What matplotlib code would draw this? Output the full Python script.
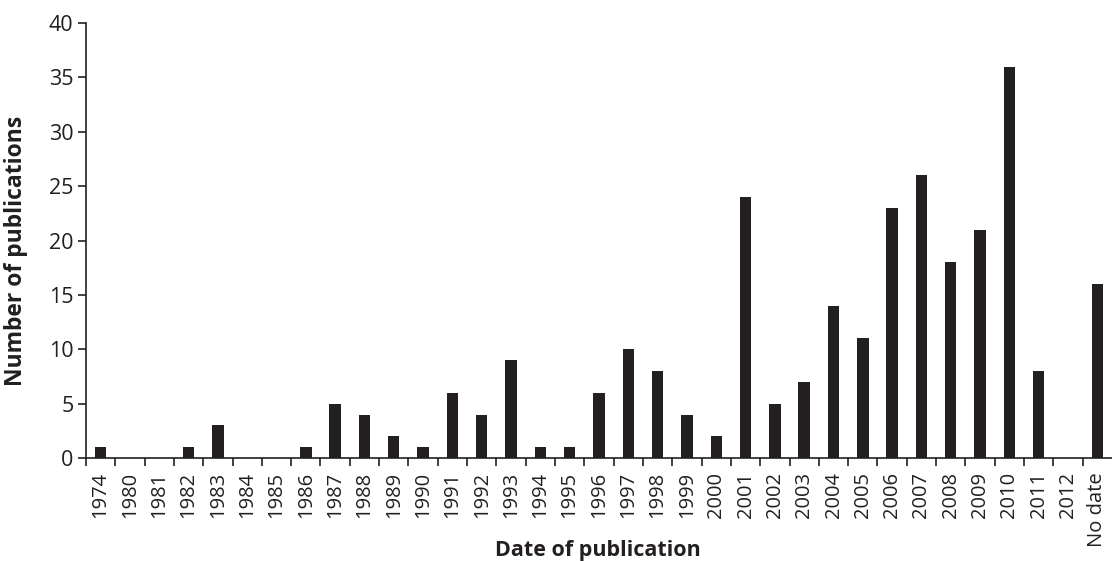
import numpy as np
import matplotlib.pyplot as plt

# Publications per year
years = ['1974', '1980', '1981', '1982', '1983', '1984', '1985', '1986', '1987',
         '1988', '1989', '1990', '1991', '1992', '1993', '1994', '1995', '1996',
         '1997', '1998', '1999', '2000', '2001', '2002', '2003', '2004', '2005',
         '2006', '2007', '2008', '2009', '2010', '2011', '2012', 'No date']
counts = [1, 0, 0, 1, 3, 0, 0, 1, 5,
          4, 2, 1, 6, 4, 9, 1, 1, 6,
          10, 8, 4, 2, 24, 5, 7, 14, 11,
          23, 26, 18, 21, 36, 8, 0, 16]
y_ticks = [0, 5, 10, 15, 20, 25, 30, 35, 40]

INK = '#231f20'

plt.rcParams['font.family'] = ['Open Sans', 'DejaVu Sans']

fig = plt.figure(figsize=(11.12, 5.61), dpi=100)
ax = fig.add_axes([0.0773, 0.1836, 0.9227, 0.7754])

x = np.arange(len(years))
ax.bar(x, counts, width=0.39, color=INK)

ax.set_xlim(-0.5, len(years) - 0.5)
ax.set_ylim(0, 40)

# y axis
ax.set_yticks(y_ticks)
ax.tick_params(axis='y', labelsize=15.5, length=6, width=1.2, color=INK,
               labelcolor=INK, pad=3)

# x axis: labels at bar centres, tick marks between categories
ax.set_xticks(x)
ax.set_xticklabels(years, rotation=90, fontsize=14.5, color=INK)
ax.tick_params(axis='x', which='major', length=0, pad=10)
ax.set_xticks(np.arange(len(years)) - 0.5, minor=True)
ax.tick_params(axis='x', which='minor', length=6, width=1.2, color=INK)

ax.spines['top'].set_visible(False)
ax.spines['right'].set_visible(False)
for side in ['left', 'bottom']:
    ax.spines[side].set_color(INK)
    ax.spines[side].set_linewidth(1.2)

# fixed label positions, as in the original layout
ax.set_ylabel('Number of publications', fontsize=16.5, fontweight='bold', color=INK)
ax.yaxis.set_label_coords(0.0255, 0.5526, transform=fig.transFigure)
ax.set_xlabel('Date of publication', fontsize=15.5, fontweight='bold', color=INK)
ax.xaxis.set_label_coords(0.538, 0.0374, transform=fig.transFigure)

fig.savefig('out.png', dpi=100)
